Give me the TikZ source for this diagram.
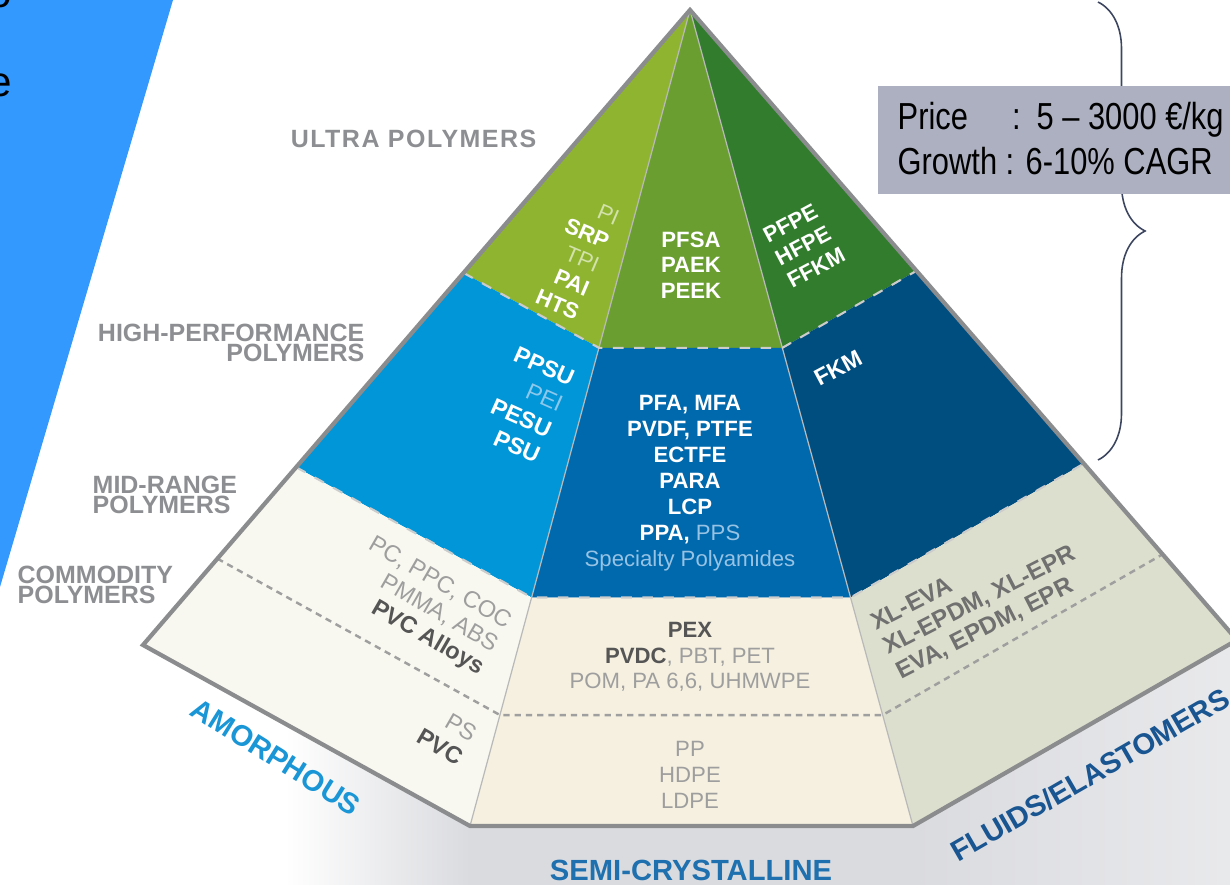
\documentclass[tikz,border=0pt]{standalone}
\usepackage{fontspec}
\setmainfont{Liberation Sans}
\newfontfamily\narrowfont[FakeStretch=0.82]{Liberation Sans}
\usetikzlibrary{calc,decorations.pathreplacing}

\definecolor{slideblue}{RGB}{51,153,255}
\definecolor{ultraA}{RGB}{143,180,48}
\definecolor{ultraB}{RGB}{106,158,48}
\definecolor{ultraC}{RGB}{49,124,45}
\definecolor{highA}{RGB}{0,150,216}
\definecolor{highB}{RGB}{0,104,172}
\definecolor{highC}{RGB}{0,77,128}
\definecolor{lowA}{RGB}{249,248,240}
\definecolor{lowB}{RGB}{245,240,224}
\definecolor{lowC}{RGB}{221,223,206}
\definecolor{rimgrey}{RGB}{138,140,142}
\definecolor{labelgrey}{RGB}{140,142,145}
\definecolor{shadowgrey}{RGB}{218,219,223}
\definecolor{boxgrey}{RGB}{172,176,192}
\definecolor{bracecol}{RGB}{60,70,96}
\definecolor{amorphblue}{RGB}{26,150,214}
\definecolor{semiblue}{RGB}{30,112,175}
\definecolor{fluidblue}{RGB}{25,85,145}
\definecolor{darktext}{RGB}{85,85,85}
\definecolor{lighttext}{RGB}{158,158,158}
\definecolor{elastext}{RGB}{112,112,112}
\definecolor{paleultra}{RGB}{210,226,170}
\definecolor{palehigh}{RGB}{140,200,235}
\definecolor{palemid}{RGB}{150,195,228}

% lighter, non-bold entry inside a bold list
\newcommand{\faint}[2]{{\mdseries\color{#1}#2}}

\begin{document}
\begin{tikzpicture}[
  x=0.01cm, y=-0.01cm,                      % one unit = one pixel of the slide
  tier/.style     = {font=\fontsize{7.1}{5.7}\selectfont\bfseries,
                     text=labelgrey, inner sep=0pt},
  cell/.style     = {font=\fontsize{6.3}{7.3}\selectfont\bfseries,
                     text=white, inner sep=0pt},
  slant/.style    = {font=\fontsize{6.6}{8}\selectfont\bfseries,
                     text=white, inner sep=0pt},
  cream/.style    = {cell, text=darktext},
  side/.style     = {font=\fontsize{8.3}{9}\selectfont\bfseries, inner sep=0pt},
  rim/.style      = {draw=rimgrey, line width=1.2pt},
  faceline/.style = {draw=gray!55, line width=0.35pt},
  bandline/.style = {draw=gray!40, line width=0.6pt, dashed},
  lowline/.style  = {draw=gray!75, line width=0.7pt, dash pattern=on 1.8pt off 1.4pt},
  pricebox/.style = {fill=boxgrey, minimum width=3.6cm, minimum height=1.08cm,
                     inner sep=0pt},
  pricetext/.style= {font=\narrowfont\fontsize{10.7}{12.8}\selectfont,
                     align=left, inner sep=0pt}
]
\useasboundingbox (0,0) rectangle (1230,885);

% shadow under the base
\shade[left color=white, right color=shadowgrey]
  (285,724) -- (470,826) -- (470,885) -- (285,885) -- cycle;
\fill[shadowgrey] (470,826) rectangle (913,885);
\shade[left color=shadowgrey, right color=white!40!shadowgrey]
  (913,826) -- (1237,640) -- (1237,885) -- (913,885) -- cycle;

% pyramid corners
\coordinate (apex)    at (690,10);
\coordinate (lcorner) at (143,645);
\coordinate (lfoot)   at (470,826);
\coordinate (rfoot)   at (913,826);
\coordinate (rcorner) at (1237,640);

% band limits on every edge
\foreach \c in {lcorner,lfoot,rfoot,rcorner}
  \foreach \t/\k in {0.414/1,0.72/2,0.864/3}
    \coordinate (\c-\k) at ($(apex)!\t!(\c)$);

% ultra
\fill[ultraA] (apex) -- (lcorner-1) -- (lfoot-1) -- cycle;
\fill[ultraB] (apex) -- (lfoot-1) -- (rfoot-1) -- cycle;
\fill[ultraC] (apex) -- (rfoot-1) -- (rcorner-1) -- cycle;
% high-performance
\fill[highA] (lcorner-1) -- (lcorner-2) -- (lfoot-2) -- (lfoot-1) -- cycle;
\fill[highB] (lfoot-1) -- (lfoot-2) -- (rfoot-2) -- (rfoot-1) -- cycle;
\fill[highC] (rfoot-1) -- (rfoot-2) -- (rcorner-2) -- (rcorner-1) -- cycle;
% mid-range and commodity
\fill[lowA] (lcorner-2) -- (lcorner) -- (lfoot) -- (lfoot-2) -- cycle;
\fill[lowB] (lfoot-2) -- (lfoot) -- (rfoot) -- (rfoot-2) -- cycle;
\fill[lowC] (rfoot-2) -- (rfoot) -- (rcorner) -- (rcorner-2) -- cycle;

\draw[faceline] (apex) -- (lfoot);
\draw[faceline] (apex) -- (rfoot);
\draw[bandline] (lcorner-1) -- (lfoot-1) -- (rfoot-1) -- (rcorner-1);
\draw[bandline] (lcorner-2) -- (lfoot-2) -- (rfoot-2) -- (rcorner-2);
\draw[lowline]  (lcorner-3) -- (lfoot-3) -- (rfoot-3) -- (rcorner-3);
\draw[rim] (apex) -- (rcorner) -- (rfoot) -- (lfoot) -- (lcorner) -- cycle;

% entries
\node[cell, rotate=-23, align=right] (ultraleft) at (577,257)
  {\faint{paleultra}{PI}\\SRP\\\faint{paleultra}{TPI}\\PAI\\HTS};
\node[cell, align=center] (ultramid) at (691,265) {PFSA\\PAEK\\PEEK};
\node[cell, rotate=28, align=left] (ultraright) at (804,245) {PFPE\\HFPE\\FFKM};

\node[slant, rotate=-24, align=right] (highleft) at (527,405)
  {PPSU\\\faint{palehigh}{PEI}\\PESU\\PSU};
\node[cell, align=center, font=\fontsize{6.3}{7.4}\selectfont\bfseries] (highmid) at (690,483)
  {PFA, MFA\\PVDF, PTFE\\ECTFE\\PARA\\LCP\\PPA, \faint{palemid}{PPS}\\
   \faint{palemid}{Specialty Polyamides}};
\node[slant, rotate=28] (highright) at (838,368) {FKM};

\node[slant, text=darktext, rotate=-30, align=right,
      font=\fontsize{6.7}{7.6}\selectfont\bfseries] (midleft) at (426,607)
  {\faint{lighttext}{PC, PPC, COC}\\\faint{lighttext}{PMMA, ABS}\\PVC Alloys};
\node[slant, text=darktext, rotate=-30, align=right,
      font=\fontsize{6.7}{7.6}\selectfont\bfseries] (lowleft) at (447,735)
  {\faint{lighttext}{PS}\\PVC};
\node[cream, align=center] (midmid) at (690,657)
  {PEX\\PVDC\faint{lighttext}{, PBT, PET}\\\faint{lighttext}{POM, PA 6,6, UHMWPE}};
\node[cream, align=center, text=lighttext, font=\fontsize{6.3}{7.3}\selectfont] (lowmid) at (690,775)
  {PP\\HDPE\\LDPE};
\node[slant, text=elastext, rotate=27, align=left,
      font=\fontsize{6.9}{7.8}\selectfont\bfseries] (midright) at (980,601)
  {XL-EVA\\XL-EPDM, XL-EPR\\EVA, EPDM, EPR};

% tiers on the left
\node[tier, anchor=east, font=\fontsize{7.1}{5.7}\selectfont\bfseries\addfontfeature{LetterSpace=6}]
  (ultralabel) at (537,139) {ULTRA POLYMERS};
\node[tier, anchor=east, align=right] (highlabel) at (365,343) {HIGH-PERFORMANCE\\POLYMERS};
\node[tier, anchor=west, align=left] (midlabel) at (92,495) {MID-RANGE\\POLYMERS};
\node[tier, anchor=west, align=left] (lowlabel) at (17,585) {COMMODITY\\POLYMERS};

% the three families
\node[side, text=amorphblue, rotate=-32] (amorph) at (276,757) {AMORPHOUS};
\node[side, text=semiblue] (semi) at (691,870) {SEMI-CRYSTALLINE};
\node[side, text=fluidblue, rotate=30] (fluid) at (1090,775) {FLUIDS/ELASTOMERS};

% slide decoration
\fill[slideblue] (0,0) -- (173,0) -- (0,587) -- cycle;
\node[font=\fontsize{12}{14}\selectfont, anchor=south east, inner sep=0pt] (fragtop) at (13,9) {o};
\node[font=\fontsize{12}{14}\selectfont, anchor=base east, inner sep=0pt] (fragmid) at (13,97) {e};

% brace and price box
\draw[bracecol, line width=0.45pt, decorate, decoration={brace, amplitude=0.47cm}]
  (1098,2) -- (1098,460);
\node[pricebox, anchor=north west] (price) at (877,85) {};
\node[pricetext, anchor=base west] (pricenote) at (897,175)
  {Price\hspace{4.4mm}:\hspace{1.6mm}5 – 3000 €/kg\\Growth : 6-10\% CAGR};

\end{tikzpicture}
\end{document}
